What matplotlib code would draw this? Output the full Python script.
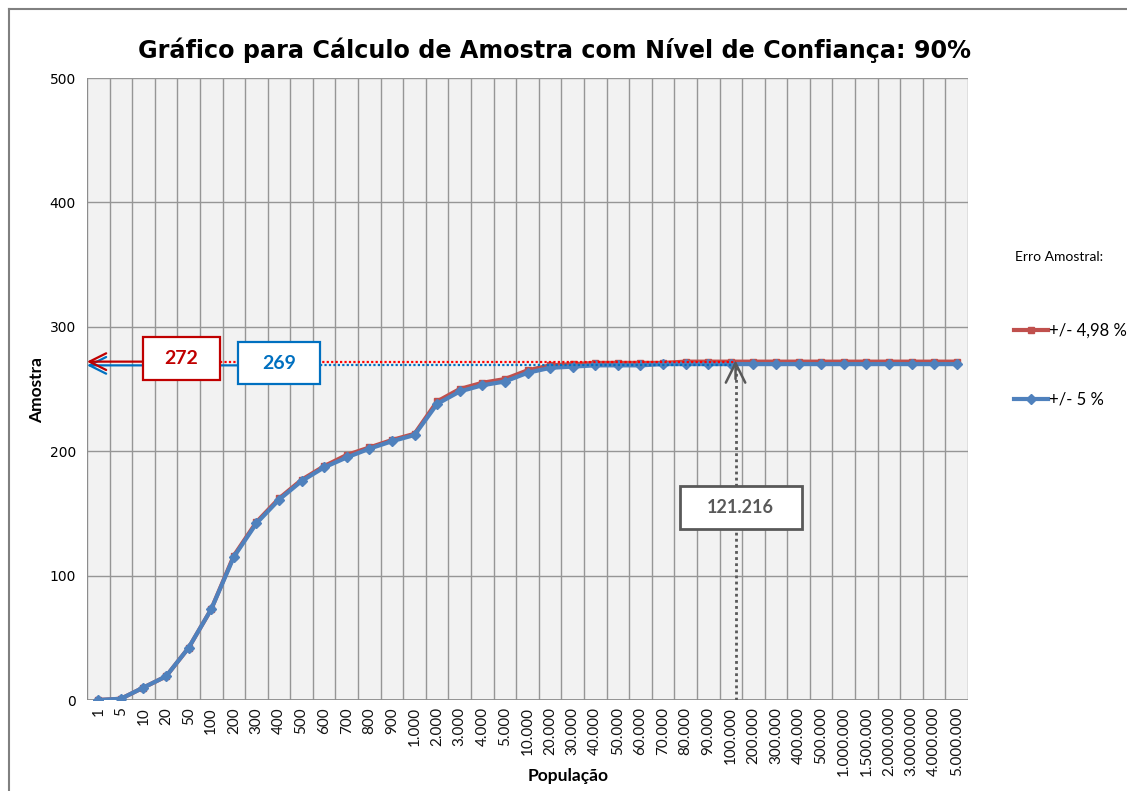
import matplotlib
matplotlib.use("Agg")
import matplotlib.pyplot as plt
from matplotlib.patches import Rectangle
from matplotlib.lines import Line2D

# ---------------- data ----------------
populacao = ["1", "5", "10", "20", "50", "100", "200", "300", "400", "500", "600",
             "700", "800", "900", "1.000", "2.000", "3.000", "4.000", "5.000",
             "10.000", "20.000", "30.000", "40.000", "50.000", "60.000", "70.000",
             "80.000", "90.000", "100.000", "200.000", "300.000", "400.000",
             "500.000", "1.000.000", "1.500.000", "2.000.000", "3.000.000",
             "4.000.000", "5.000.000"]

amostra_498 = [0, 1, 10, 19, 42, 73, 116, 143, 162, 177, 188, 197, 203, 209, 214,
               240, 250, 255, 258, 265, 269, 270, 271, 271, 271, 271, 272, 272,
               272, 272, 272, 272, 272, 272, 272, 272, 272, 272, 272]
amostra_5 = [0, 1, 10, 19, 42, 73, 115, 142, 161, 176, 187, 195, 202, 208, 213,
             238, 248, 253, 256, 263, 267, 268, 269, 269, 269, 270, 270, 270,
             270, 270, 270, 270, 270, 270, 270, 270, 270, 270, 270]

serie_labels = ["+/- 4,98 %", "+/- 5 %"]
valor_red = 272
valor_blue = 269
pop_marcada = "121.216"
pos_marcada = 28.21   # between 100.000 and 200.000

yticks = [0, 100, 200, 300, 400, 500]

# ---------------- figure ----------------
W, H = 1127, 791
fig = plt.figure(figsize=(W / 100, H / 100), dpi=100)
fig.patch.set_facecolor("white")

def px(x0, y0, x1, y1):
    return [x0 / W, 1 - y1 / H, (x1 - x0) / W, (y1 - y0) / H]

ax = fig.add_axes(px(87, 78, 968, 700))
ax.set_facecolor("#F2F2F2")

n = len(populacao)
xs = list(range(n))
ax.set_xlim(-0.5, n - 0.5)
ax.set_ylim(0, 500)

# grid
for k in range(n + 1):
    ax.axvline(k - 0.5, color="#969696", lw=1.0, zorder=1)
for v in yticks[1:]:
    ax.axhline(v, color="#969696", lw=1.0, zorder=1)
for s in ax.spines.values():
    s.set_visible(False)
ax.axhline(0, color="#8C8C8C", lw=1.3, zorder=1)
ax.axvline(-0.5, color="#8C8C8C", lw=1.3, zorder=1)

# series
red = "#C0504D"
blue = "#4F81BD"
l1, = ax.plot(xs, amostra_498, color=red, lw=3.0, marker="s", markersize=5,
              markerfacecolor=red, markeredgecolor=red, zorder=4, label=serie_labels[0])
l2, = ax.plot(xs, amostra_5, color=blue, lw=3.0, marker="D", markersize=5,
              markerfacecolor=blue, markeredgecolor=blue, zorder=5, label=serie_labels[1])

# ticks
ax.set_xticks(xs)
ax.set_xticklabels(populacao, rotation=90, fontsize=11, family="Lato", color="#111111")
ax.set_yticks(yticks)
ax.set_yticklabels([str(v) for v in yticks], fontsize=10, family="DejaVu Sans")
ax.tick_params(axis="both", length=0)
ax.tick_params(axis="x", pad=5)
ax.tick_params(axis="y", pad=8)

ax.set_xlabel("População", fontsize=12.5, family="Lato", fontweight="bold")
ax.xaxis.set_label_coords((568 - 87) / 881, (700 - 776) / 622)
ax.xaxis.label.set_va("center")
ax.set_ylabel("Amostra", fontsize=12.5, family="Lato", fontweight="bold")
ax.yaxis.set_label_coords((37 - 87) / 881, (700 - 390) / 622)
ax.yaxis.label.set_va("center")

fig.text(555 / W, 1 - 50 / H, "Gráfico para Cálculo de Amostra com Nível de Confiança: 90%",
         ha="center", va="center", fontsize=17.2, fontweight="bold", family="DejaVu Sans")

# ---------------- annotations ----------------
dred = "#C00000"
dblue = "#0070C0"
gray = "#595959"

# blue solid arrow to axis
ax.annotate("", xy=(-0.5, valor_blue), xytext=(6.18, valor_blue),
            arrowprops=dict(arrowstyle="->,head_length=1.2,head_width=0.6",
                            color=dblue, lw=1.6, shrinkA=0, shrinkB=0),
            annotation_clip=False, zorder=6)
# red solid arrow to axis
ax.annotate("", xy=(-0.5, valor_red), xytext=(1.98, valor_red),
            arrowprops=dict(arrowstyle="->,head_length=1.2,head_width=0.6",
                            color=dred, lw=1.6, shrinkA=0, shrinkB=0),
            annotation_clip=False, zorder=6)
# dotted lines
ax.plot([5.39, pos_marcada], [valor_red, valor_red], color="#FF0000", lw=1.6,
        linestyle=(0, (1, 1)), zorder=6)
ax.plot([9.81, pos_marcada], [valor_blue, valor_blue], color=dblue, lw=1.6,
        linestyle=(0, (1, 1)), zorder=6)

# boxes
ax.add_patch(Rectangle((1.98, 257.2), 3.41, 34.6, facecolor="white", edgecolor=dred,
                       lw=1.6, zorder=7))
ax.text(1.98 + 3.41 / 2, 257.2 + 34.6 / 2, str(valor_red), ha="center", va="center",
        color=dred, fontsize=14, fontweight="bold", family="Lato", zorder=8)
ax.add_patch(Rectangle((6.18, 254.0), 3.63, 33.8, facecolor="white", edgecolor=dblue,
                       lw=1.6, zorder=7))
ax.text(6.18 + 3.63 / 2, 254.0 + 33.8 / 2, str(valor_blue), ha="center", va="center",
        color=dblue, fontsize=14, fontweight="bold", family="Lato", zorder=8)

# vertical marker
ax.plot([pos_marcada, pos_marcada], [0, valor_red - 2], color=gray, lw=2,
        linestyle=(0, (1, 1.2)), zorder=6)
ax.annotate("", xy=(pos_marcada, valor_red + 1), xytext=(pos_marcada, valor_red - 14),
            arrowprops=dict(arrowstyle="->,head_length=1.4,head_width=0.7",
                            color=gray, lw=1.8, shrinkA=0, shrinkB=0), zorder=6)
ax.add_patch(Rectangle((25.74, 137.5), 5.40, 34.5, facecolor="white", edgecolor=gray,
                       lw=2, zorder=7))
ax.text(25.74 + 5.40 / 2, 137.5 + 34.5 / 2, pop_marcada, ha="center", va="center",
        color=gray, fontsize=13, fontweight="bold", family="Lato", zorder=8)

# ---------------- legend ----------------
fig.text(1015 / W, 1 - 257 / H, "Erro Amostral:", ha="left", va="center",
         fontsize=10, family="Lato")
leg = fig.legend(handles=[l1, l2], labels=serie_labels, loc="center left",
                 bbox_to_anchor=(1006 / W, 1 - 365 / H), frameon=False,
                 prop={"family": "Lato", "size": 12},
                 handlelength=2.0, handletextpad=0.1, labelspacing=3.2, borderpad=0,
                 markerscale=1.0)

# outer border
fig.add_artist(Line2D([9 / W, 1], [1 - 9 / H, 1 - 9 / H], color="#808080", lw=1.5))
fig.add_artist(Line2D([9 / W, 9 / W], [0, 1 - 9 / H], color="#808080", lw=1.5))

fig.savefig("out.png", dpi=100, facecolor="white")
